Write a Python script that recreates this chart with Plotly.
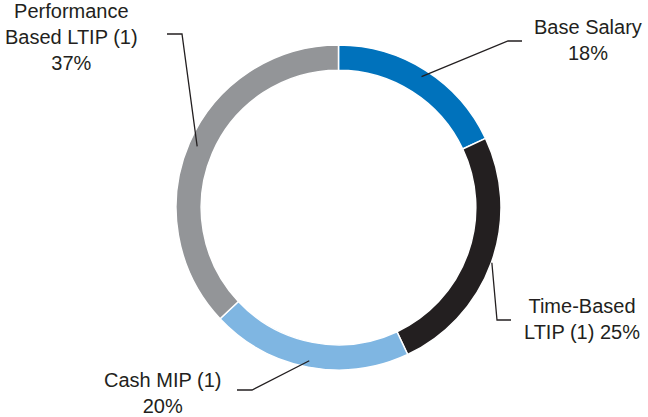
import math
import plotly.graph_objects as go

W, H = 648, 417

labels = ["Base Salary", "Time-Based LTIP (1)", "Cash MIP (1)", "Performance Based LTIP (1)"]
values = [18, 25, 20, 37]
colors = ["#0072bc", "#231f20", "#7fb6e2", "#939598"]
label_text = [
    "Base Salary<br>18%",
    "Time-Based<br>LTIP (1) 25%",
    "Cash MIP (1)<br>20%",
    "Performance<br>Based LTIP (1)<br>37%",
]

# layout of the ring (pixels)
cx, cy, r_out = 338.5, 207.5, 162.5

# leader-line geometry per label: radius of attach point, elbow, end, text centre
leader_r = [155, 163, 156, 154]
elbows = [(508, 41), (497, 320), (252, 390), (182, 34)]
ends = [(522, 41), (511, 320), (237, 390), (167, 34)]
text_pos = [(588, 40), (582, 319), (162, 393), (71, 37)]


def px(x, y):
    return x / W, 1 - y / H


fig = go.Figure()
fig.add_trace(go.Pie(
    labels=labels, values=values, hole=0.845, sort=False, direction="clockwise",
    rotation=0, textinfo="none", hoverinfo="label+percent",
    marker=dict(colors=colors, line=dict(color="white", width=1.5)),
    domain=dict(x=[(cx - r_out) / W, (cx + r_out) / W],
                y=[1 - (cy + r_out) / H, 1 - (cy - r_out) / H]),
    showlegend=False,
))

total = sum(values)
acc = 0
for i, v in enumerate(values):
    mid = (acc + v / 2) / total * 2 * math.pi
    acc += v
    ax = cx + leader_r[i] * math.sin(mid)
    ay = cy - leader_r[i] * math.cos(mid)
    p0, p1, p2 = px(ax, ay), px(*elbows[i]), px(*ends[i])
    fig.add_shape(type="path", xref="paper", yref="paper",
                  path=f"M {p0[0]} {p0[1]} L {p1[0]} {p1[1]} L {p2[0]} {p2[1]}",
                  line=dict(color="#231f20", width=1.3))
    tx, ty = px(*text_pos[i])
    fig.add_annotation(x=tx, y=ty, xref="paper", yref="paper", text=label_text[i],
                       showarrow=False, xanchor="center", yanchor="middle", align="center",
                       font=dict(family="Liberation Sans, Arial, sans-serif", size=20, color="#231f20"))

fig.update_layout(
    width=W, height=H,
    margin=dict(l=0, r=0, t=0, b=0),
    paper_bgcolor="white", plot_bgcolor="white",
)
fig.write_html("out.html", config={"displayModeBar": False},
               post_script="document.body.style.margin='0';")
